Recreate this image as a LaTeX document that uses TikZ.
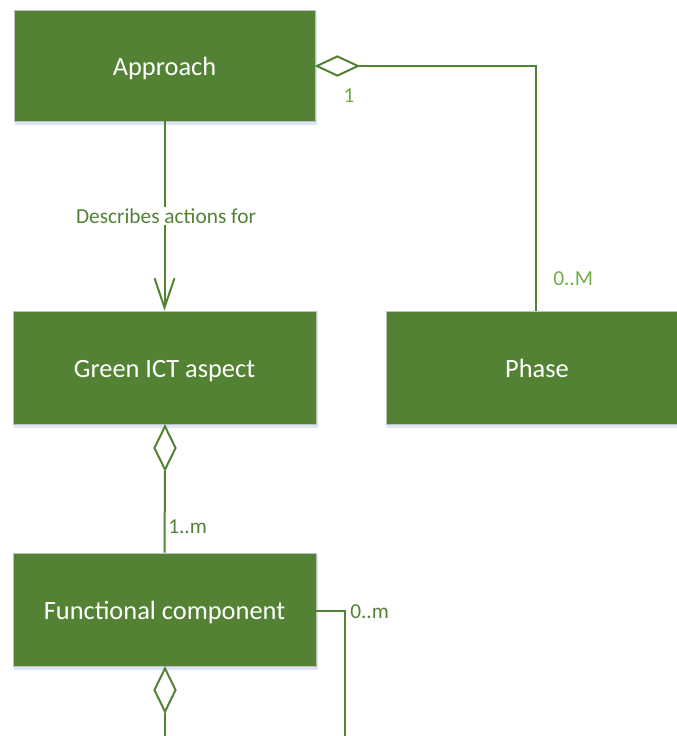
\documentclass[tikz,border=0pt]{standalone}
\usepackage{fontspec}
\setmainfont{Carlito}
\usetikzlibrary{arrows.meta,shapes.geometric}
\definecolor{boxgreen}{HTML}{548235}
\definecolor{linegreen}{HTML}{538135}
\definecolor{lightgreen}{HTML}{70AD47}
\definecolor{boxedge}{HTML}{C0C0C0}
\definecolor{shadowblue}{HTML}{DCE6F2}
\begin{document}
\begin{tikzpicture}[x=0.75pt,y=-0.75pt,
  entity/.style={rectangle,fill=boxgreen,draw=boxedge,line width=0.6pt,
    text=white,font=\fontsize{19.8}{23}\selectfont,inner sep=0pt,
    text height=15pt,text depth=0pt},
  conn/.style={draw=linegreen,line width=1.5pt},
  agg/.style={diamond,draw=linegreen,fill=white,line width=1.5pt,inner sep=0pt,
    minimum width=42*0.75pt,minimum height=20*0.75pt,aspect=2},
  mult/.style={font=\fontsize{16}{19}\selectfont,inner sep=0pt},
  openhead/.style={-{Straight Barb[length=22pt,width=15pt,line width=1.5pt]}}
]
\useasboundingbox (0,0) rectangle (677,736);
\clip (0,0) rectangle (677,736);

% subtle drop shadows under the class boxes
\foreach \xa/\ya/\xb/\yb in {14/12/315/125, 13/313/316/428, 386/313/689/428, 13/555/316/670}
  \fill[shadowblue] (\xa+1,\ya) rectangle (\xb+2,\yb);

% class boxes
\node[entity,minimum width=301*0.75pt,minimum height=111*0.75pt] (approach) at (164.5,65.5) {Approach};
\node[entity,minimum width=303*0.75pt,minimum height=113*0.75pt] (green) at (164.5,367.5) {Green ICT aspect};
\node[entity,minimum width=302*0.75pt,minimum height=113*0.75pt] (phase) at (537,367.5) {Phase};
\node[entity,minimum width=303*0.75pt,minimum height=113*0.75pt] (func) at (164.5,609.5) {Functional component};

% Approach -- Phase aggregation
\node[agg,anchor=west] (dA) at (approach.east |- 0,66) {};
\coordinate (cA) at (536,66);
\draw[conn] (dA.east) -- (cA) -- (phase.north -| cA);
\node[mult,text=lightgreen] (mA1) at (349,96) {1};
\node[mult,text=lightgreen,anchor=west] (mA2) at (553,279) {0..M};

% Approach -> Green ICT aspect
\draw[conn,openhead] (approach.south) -- (green.north);
\node[mult,text=linegreen,fill=white,inner sep=1pt] (lblDesc) at (166,216) {Describes actions for};

% Green ICT aspect -- Functional component aggregation
\node[agg,rotate=90,minimum width=44*0.75pt,minimum height=22*0.75pt] (dG) at (165,448) {};
\draw[conn] (dG.west) -- (func.north);
\node[mult,text=linegreen,anchor=west] (mG) at (168,527) {1..m};

% Functional component continuations
\node[agg,rotate=90,minimum width=44*0.75pt,minimum height=22*0.75pt] (dF) at (165,690) {};
\coordinate (fEnd) at (165,736);
\draw[conn] (dF.west) -- (fEnd);
\coordinate (fR) at (345,611);
\coordinate (fREnd) at (345,736);
\draw[conn] (func.east |- fR) -- (fR) -- (fREnd);
\node[mult,text=linegreen,anchor=west] (mF) at (350,612) {0..m};
\end{tikzpicture}
\end{document}
